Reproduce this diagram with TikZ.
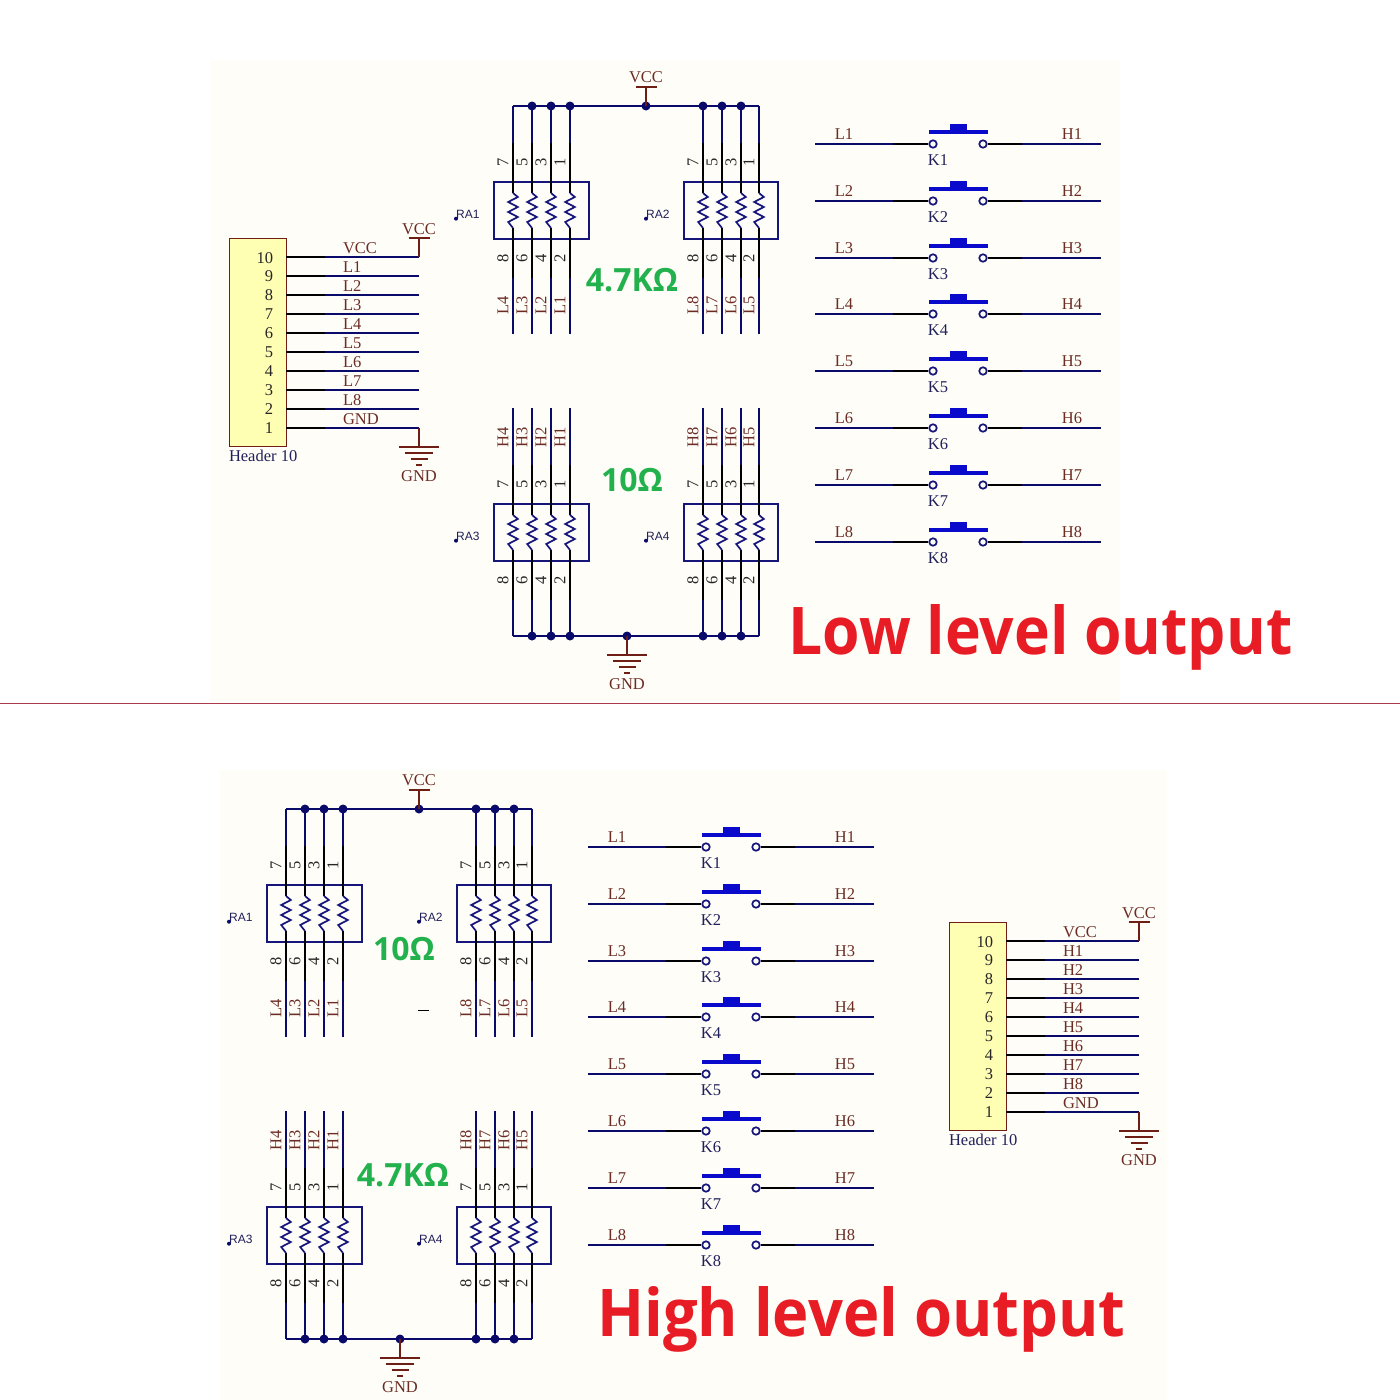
\documentclass[tikz,border=0pt]{standalone}
\usepackage{fontspec}
\setmainfont{Liberation Serif}
\newfontfamily\tagfont{Liberation Sans}
\newfontfamily\bigfont{Open Sans}
\definecolor{navyw}{HTML}{0A0A6A}
\definecolor{boxc}{HTML}{15157A}
\definecolor{brownc}{HTML}{6E1E14}
\definecolor{labelc}{HTML}{6B2C24}
\definecolor{textnavy}{HTML}{20205A}
\definecolor{swblue}{HTML}{0A0ACC}
\definecolor{creamc}{HTML}{FFFDF8}
\definecolor{hdrfill}{HTML}{FFFFB4}
\definecolor{greenc}{HTML}{22B14C}
\definecolor{redc}{HTML}{E81C24}
\definecolor{sepc}{HTML}{A83A4A}
\tikzset{
 x=1pt,y=-1pt,
 txt/.style={inner sep=0pt,outer sep=0pt,font=\fontsize{16.5}{17}\selectfont},
 netl/.style={txt,text=labelc},
 pinl/.style={txt,text=black!85},
 refl/.style={txt,text=textnavy},
 net/.style={draw=navyw,line width=2.2pt},
 pinw/.style={draw=black,line width=2.2pt},
 pow/.style={draw=brownc,line width=2.2pt},
 rbox/.style={draw=boxc,line width=2.2pt,outer sep=0pt,inner sep=0pt},
 zig/.style={draw=boxc,line width=1.7pt,line join=miter},
 dotn/.style={circle,fill=navyw,inner sep=0pt,minimum size=9pt},
 tagdot/.style={circle,fill=navyw,inner sep=0pt,minimum size=4pt},
 swbar/.style={draw=swblue,line width=4pt},
 swpin/.style={circle,draw=boxc,fill=creamc,line width=1.7pt,inner sep=0pt,minimum size=7.5pt},
 bigt/.style={inner sep=0pt,font=\bigfont\bfseries\fontsize{32}{32}\selectfont,text=greenc},
 titlet/.style={inner sep=0pt,yscale=1.07,anchor=base west,font=\bigfont\bfseries\fontsize{61.5}{62}\selectfont,text=redc}
}
% prefix, number, x, y, top end, bottom end, label letter, label base, label y
\newcommand{\respack}[9]{%
 \pgfmathsetmacro{\boxw}{#3>600?94:95}
 \node[rbox,minimum width=\boxw pt,minimum height=57pt,anchor=north west] (#1#2box) at (#3,#4) {};
 \node[tagdot] (#1#2dot) at ({#3-38},{#4+36.7}) {};
 \node[anchor=south west,inner sep=0pt,font=\tagfont\fontsize{12}{12}\selectfont,text=textnavy] (#1#2tag) at ({#3-38},{#4+36.7}) {RA#2};
 \foreach \i/\dxo/\pt/\pb in {1/19/7/8,2/38/5/6,3/57/3/4,4/76/1/2}{
  \pgfmathtruncatemacro{\num}{#8-\i+1}
  \pgfmathsetmacro{\dx}{\dxo-((#3>600)&&(\i==4)?1:0)}
  \coordinate (#1#2t\i) at ({#3+\dx},#5);
  \coordinate (#1#2a\i) at ({#3+\dx},{#4-39});
  \coordinate (#1#2b\i) at ({#3+\dx},{#4+11});
  \coordinate (#1#2c\i) at ({#3+\dx},{#4+46});
  \coordinate (#1#2d\i) at ({#3+\dx},{#4+96});
  \coordinate (#1#2e\i) at ({#3+\dx},#6);
  \draw[net] (#1#2t\i) -- (#1#2a\i);
  \draw[pinw] (#1#2a\i) -- (#1#2b\i);
  \draw[zig] (#1#2b\i) -- ++(4.8,4) -- ++(-9.6,5) -- ++(9.6,5) -- ++(-9.6,5) -- ++(9.6,5) -- ++(-9.6,5) -- (#1#2c\i);
  \draw[pinw] (#1#2c\i) -- (#1#2d\i);
  \draw[net] (#1#2d\i) -- (#1#2e\i);
  \node[pinl,rotate=90] at ({#3+\dx-10},{#4-20}) {\pt};
  \node[pinl,rotate=90] at ({#3+\dx-10},{#4+76}) {\pb};
  \node[netl,rotate=90] at ({#3+\dx-10},#9) {#7\num};
 }
}
% id, x, y
\newcommand{\vccsym}[3]{%
 \coordinate (#1s) at (#2,#3);
 \coordinate (#1b) at (#2,{#3-19});
 \draw[pow] (#1s) -- (#1b);
 \draw[pow] ([xshift=-10.5pt]#1b) -- ([xshift=10.5pt]#1b);
 \node[netl] at (#2,{#3-28.5}) {VCC};
}
\newcommand{\gndsym}[3]{%
 \coordinate (#1s) at (#2,#3);
 \coordinate (#1b) at (#2,{#3+19});
 \draw[pow] (#1s) -- (#1b);
 \draw[pow] ([xshift=-20pt]#1b) -- ([xshift=20pt]#1b);
 \draw[pow] ([xshift=-14pt,yshift=-6pt]#1b) -- ([xshift=14pt,yshift=-6pt]#1b);
 \draw[pow] ([xshift=-8.5pt,yshift=-12pt]#1b) -- ([xshift=8.5pt,yshift=-12pt]#1b);
 \draw[pow] ([xshift=-3pt,yshift=-18pt]#1b) -- ([xshift=3pt,yshift=-18pt]#1b);
 \node[netl] at (#2,{#3+48}) {GND};
}
% id, x, y, net letter
\newcommand{\headerblock}[4]{%
 \node[draw=brownc,fill=hdrfill,line width=1pt,minimum width=57pt,minimum height=208pt,inner sep=0pt,outer sep=0pt,anchor=north west] (#1box) at (#2,#3) {};
 \node[refl,anchor=north west] at (#2,{#3+212.5}) {Header 10};
 \foreach \n/\lab [count=\c from 0] in {10/VCC,9/#41,8/#42,7/#43,6/#44,5/#45,4/#46,3/#47,2/#48,1/GND}{
  \pgfmathsetmacro{\py}{#3+19.3+18.95*\c}
  \coordinate (#1p\n) at ({#2+57},\py);
  \coordinate (#1m\n) at ({#2+96},\py);
  \coordinate (#1e\n) at ({#2+190},\py);
  \draw[pinw] (#1p\n) -- (#1m\n);
  \draw[net] (#1m\n) -- (#1e\n);
  \node[pinl,anchor=east] at ({#2+44},{\py+.3}) {\n};
  \node[netl,anchor=west] at ({#2+114},{\py-9}) {\lab};
 }
 \vccsym{#1v}{#2+190}{#3+19.3}
 \gndsym{#1g}{#2+190}{#3+19.3+170.55}
}
% prefix
\newcommand{\switches}[1]{%
 \foreach \k/\sy in {1/144,2/201,3/258,4/314,5/371,6/428,7/485,8/542}{
  \coordinate (#1la\k) at (815,\sy);
  \coordinate (#1lb\k) at (893,\sy);
  \coordinate (#1ra\k) at (1022,\sy);
  \coordinate (#1rb\k) at (1101,\sy);
  \node[swpin] (#1pa\k) at (933,\sy) {};
  \node[swpin] (#1pb\k) at (983,\sy) {};
  \draw[net] (#1la\k) -- (#1lb\k);
  \draw[pinw] (#1lb\k) -- (#1pa\k);
  \draw[pinw] (#1pb\k) -- (#1ra\k);
  \draw[net] (#1ra\k) -- (#1rb\k);
  \draw[swbar] (929,{\sy-12}) -- (988,{\sy-12});
  \fill[swblue] (950,{\sy-20}) rectangle (967,{\sy-12});
  \node[netl] at (844,{\sy-9.5}) {L\k};
  \node[netl] at (1072,{\sy-9.5}) {H\k};
  \node[refl] at (938,{\sy+16}) {K\k};
 }
}
% prefix, vcc x, gnd x
\newcommand{\packs}[3]{%
 \respack{#1}{1}{494}{182}{106}{333.5}{L}{4}{305}
 \respack{#1}{2}{684}{182}{106}{333.5}{L}{8}{305}
 \respack{#1}{3}{494}{504}{408}{636}{H}{4}{437}
 \respack{#1}{4}{684}{504}{408}{636}{H}{8}{437}
 \coordinate (#1vj) at (#2,106);
 \coordinate (#1gj) at (#3,636);
 \draw[net] (#11t1) -- (#12t4);
 \draw[net] (#13e1) -- (#14e4);
 \foreach \w in {2,3,4}{\node[dotn] at (#11t\w) {}; \node[dotn] at (#13e\w) {};}
 \foreach \w in {1,2,3}{\node[dotn] at (#12t\w) {}; \node[dotn] at (#14e\w) {};}
 \node[dotn] at (#1vj) {};
 \node[dotn] at (#1gj) {};
 \vccsym{#1v}{#2}{106}
 \gndsym{#1g}{#3}{636}
}
\begin{document}
\begin{tikzpicture}
\useasboundingbox (0,0) rectangle (1400,1400);
\fill[white] (0,0) rectangle (1400,1400);
\fill[creamc] (210,60) rectangle (1120,702);
\fill[creamc] (220,770) rectangle (1167,1400);
\coordinate (sepl) at (0,703.5);
\coordinate (sepr) at (1400,703.5);
\draw[draw=sepc,line width=1pt] (sepl) -- (sepr);

% upper schematic
\headerblock{uh}{229}{238}{L}
\packs{up}{646}{627}
\switches{us}
\node[bigt] (t47a) at (632,280) {4.7KΩ};
\node[bigt] (t10a) at (632,480) {10Ω};
\node[titlet,xscale=.985] (tlow) at (788.5,654.5) {Low level output};

% lower schematic
\headerblock{lh}{949}{922}{H}
\begin{scope}[shift={(-227,703)}]
\packs{lo}{646}{627}
\switches{ls}
\end{scope}
\node[bigt] (t10b) at (404,949) {10Ω};
\node[bigt] (t47b) at (403,1175) {4.7KΩ};
\node[titlet] (thigh) at (597,1336) {High level output};
\coordinate (dasha) at (418,1010.5);
\coordinate (dashb) at (429,1010.5);
\draw[black,line width=1pt] (dasha) -- (dashb);
\end{tikzpicture}
\end{document}
